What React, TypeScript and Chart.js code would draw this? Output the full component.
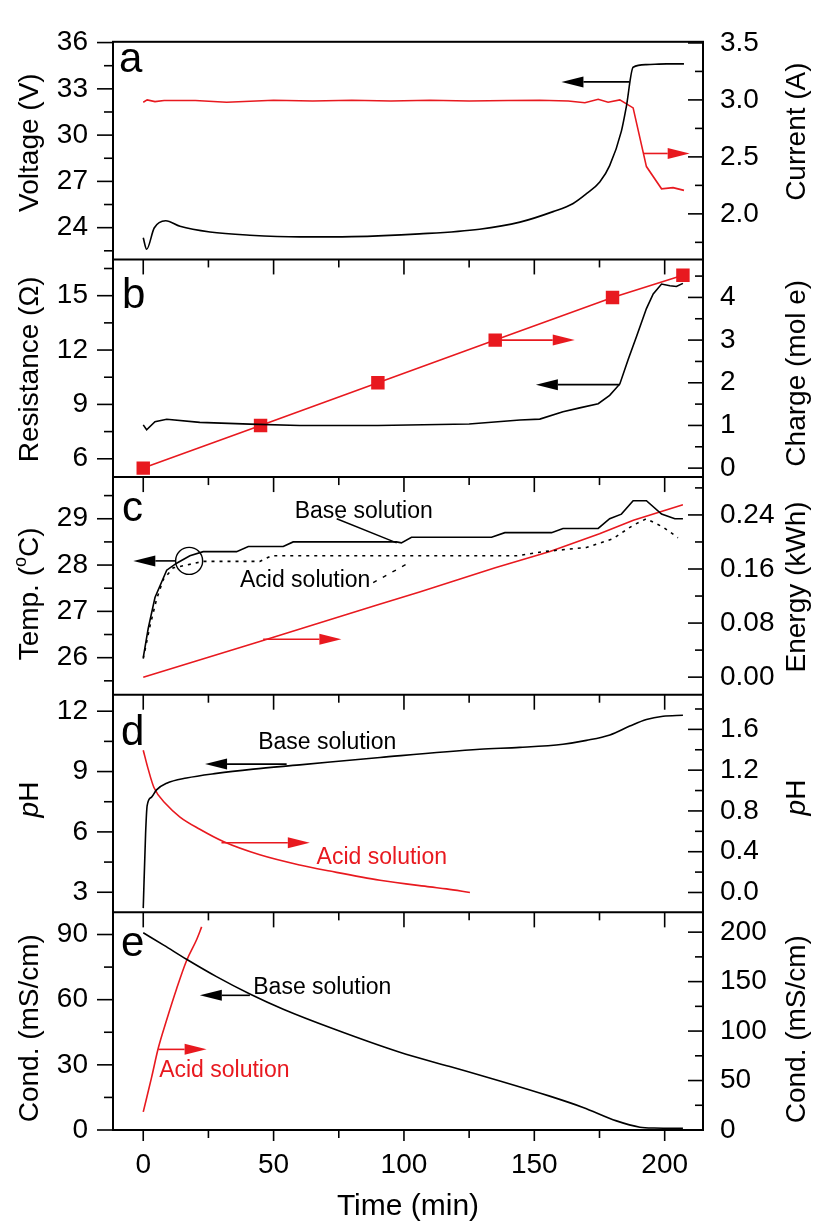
import React, { useEffect, useRef } from 'react';
import { Chart, registerables } from 'chart.js';

Chart.register(...registerables);

const FONT = '"Liberation Sans", Arial, Helvetica, sans-serif';
const RED = '#e8191f';
const BLACK = '#000000';

// ---------- shared time axis ----------
const timeTickValues = [0, 50, 100, 150, 200];

// ---------- panel a ----------
const voltT = [0, 1.3, 4.2, 8.6, 14.1, 25.6, 40.9, 60, 80, 106, 129, 144.5, 157.2, 164.9, 170, 175.1, 178.9, 183.4, 185.3, 187.9, 193, 200.7, 207.4];
const voltV = [23.34, 22.6, 23.98, 24.45, 24.09, 23.72, 23.51, 23.4, 23.42, 23.6, 23.9, 24.36, 25.04, 25.57, 26.2, 26.96, 28.02, 30.26, 31.85, 34.4, 34.57, 34.62, 34.62];
const currT = [0, 1.5, 4.5, 8, 20, 32, 50, 65, 80, 95, 110, 125, 140, 152, 163, 169.4, 174.5, 178.3, 182.8, 187.9, 193, 198.8, 203.2, 207.4];
const currA = [2.98, 3.0, 2.985, 2.995, 2.995, 2.98, 2.997, 2.99, 2.997, 2.99, 2.997, 2.99, 2.995, 2.997, 2.99, 2.975, 3.006, 2.98, 3.0, 2.93, 2.415, 2.22, 2.23, 2.206];

// ---------- panel b ----------
const resT = [0, 1.3, 4.5, 9, 21.7, 40.9, 60, 90, 125, 144.5, 152.1, 161, 167.4, 174.5, 178.9, 182.8, 186, 189.2, 193, 195.6, 198.8, 202, 204.5, 207];
const resR = [7.87, 7.6, 8.05, 8.18, 8.01, 7.91, 7.84, 7.84, 7.92, 8.14, 8.19, 8.59, 8.81, 9.04, 9.5, 10.13, 11.48, 12.75, 14.29, 15.1, 15.64, 15.55, 15.51, 15.68];
const chargeT = [0, 45, 90, 135, 180, 207];
const chargeQ = [0, 1, 2, 3, 4, 4.52];

// ---------- panel c ----------
const tempBaseT = [0, 1.9, 4.5, 9, 12.8, 17.9, 23, 35.8, 40.3, 53.7, 57.5, 97.2, 99, 102.9, 133.6, 138.7, 156.6, 161, 174.5, 178.9, 183.4, 187.9, 193, 198.8, 203.9, 207];
const tempBaseV = [26.0, 26.63, 27.3, 27.89, 28.04, 28.2, 28.29, 28.29, 28.4, 28.4, 28.5, 28.5, 28.48, 28.6, 28.6, 28.7, 28.7, 28.79, 28.79, 29.0, 29.1, 29.39, 29.39, 29.1, 29.0, 29.0];
const tempAcidT = [0, 2.6, 5.1, 7.7, 11.5, 16.6, 23, 44.7, 49.2, 143.2, 153.4, 170, 180.2, 187.9, 193, 199.4, 205.1];
const tempAcidV = [25.98, 26.69, 27.26, 27.69, 27.94, 28.0, 28.08, 28.08, 28.2, 28.2, 28.29, 28.38, 28.57, 28.86, 29.0, 28.82, 28.59];
const energyT = [0, 45, 90, 106, 135, 156, 175, 188, 207];
const energyE = [0.0, 0.053, 0.107, 0.126, 0.162, 0.186, 0.212, 0.232, 0.255];

// ---------- panel d ----------
const phBaseT = [0, 0.9, 1.5, 3.2, 5.1, 9, 16.6, 28.1, 42.2, 60, 90.8, 129.1, 144.4, 161, 170, 179, 186.6, 193, 199.4, 207];
const phBaseV = [2.21, 5.91, 7.31, 7.73, 8.09, 8.42, 8.68, 8.91, 9.12, 9.33, 9.7, 10.11, 10.2, 10.36, 10.55, 10.82, 11.26, 11.59, 11.75, 11.8];
const phAcidT = [0, 1.9, 4.1, 9, 14.1, 21.7, 30.7, 44.7, 60, 71.6, 90.8, 109.9, 116.3, 125.3];
const phAcidV = [1.396, 1.21, 1.03, 0.86, 0.74, 0.62, 0.5, 0.37, 0.27, 0.21, 0.12, 0.055, 0.035, 0.0];

// ---------- panel e ----------
const condBaseT = [0, 8, 16.6, 28.1, 40.9, 53.7, 72.9, 98.4, 117.6, 136.8, 155.9, 168.7, 181.5, 190.5, 196, 207];
const condBaseV = [90.8, 85.0, 78.6, 70.6, 62.6, 55.6, 46.6, 35.8, 29.2, 22.6, 15.6, 10.4, 4.2, 1.3, 0.9, 0.8];
const condAcidT = [0, 3.2, 5.8, 9, 12.8, 16.6, 20.5, 22.4];
const condAcidV = [18.3, 53.2, 83.1, 111.4, 142.8, 171.1, 192.6, 205.3];

// ---------- axes ----------
type AxisDef = { id: string; side: 'left' | 'right'; min: number; max: number; major: number; minor: number; dec: number; order: number };
const axisDefs: AxisDef[] = [
  { id: 'ya', side: 'left', min: 21.94, max: 36.05, major: 3, minor: 1.5, dec: 0, order: 0 },
  { id: 'yb', side: 'left', min: 4.99, max: 17.0, major: 3, minor: 1.5, dec: 0, order: 1 },
  { id: 'yc', side: 'left', min: 25.2, max: 29.9, major: 1, minor: 0.5, dec: 0, order: 2 },
  { id: 'yd', side: 'left', min: 2.0, max: 12.82, major: 3, minor: 1.5, dec: 0, order: 3 },
  { id: 'ye', side: 'left', min: 0, max: 100.2, major: 30, minor: 15, dec: 0, order: 4 },
  { id: 'ra', side: 'right', min: 1.6, max: 3.51, major: 0.5, minor: 0.25, dec: 1, order: 0 },
  { id: 'rb', side: 'right', min: -0.21, max: 4.89, major: 1, minor: 0.5, dec: 0, order: 1 },
  { id: 'rc', side: 'right', min: -0.026, max: 0.296, major: 0.08, minor: 0.04, dec: 2, order: 2 },
  { id: 'rd', side: 'right', min: -0.195, max: 1.94, major: 0.4, minor: 0.2, dec: 1, order: 3 },
  { id: 're', side: 'right', min: 0, max: 220, major: 50, minor: 25, dec: 0, order: 4 },
];
const panelAxes = ['ya', 'yb', 'yc', 'yd', 'ye'];

type Part = { t: string; font?: string; dy?: number };
const titles: { axis: string; side: 'left' | 'right'; parts: Part[]; dy: number }[] = [
  { axis: 'ya', side: 'left', parts: [{ t: 'Voltage (V)' }], dy: -8 },
  { axis: 'yb', side: 'left', parts: [{ t: 'Resistance (Ω)' }], dy: 1 },
  { axis: 'yc', side: 'left', parts: [{ t: 'Temp. (' }, { t: 'o', font: '18px', dy: -9 }, { t: 'C)' }], dy: 8 },
  { axis: 'yd', side: 'left', parts: [{ t: 'p', font: 'italic 28px' }, { t: 'H' }], dy: -4 },
  { axis: 'ye', side: 'left', parts: [{ t: 'Cond. (mS/cm)' }], dy: 7 },
  { axis: 'ra', side: 'right', parts: [{ t: 'Current (A)' }], dy: -19 },
  { axis: 'rb', side: 'right', parts: [{ t: 'Charge (mol e)' }], dy: 5 },
  { axis: 'rc', side: 'right', parts: [{ t: 'Energy (kWh)' }], dy: 1 },
  { axis: 'rd', side: 'right', parts: [{ t: 'p', font: 'italic 28px' }, { t: 'H' }], dy: -6 },
  { axis: 're', side: 'right', parts: [{ t: 'Cond. (mS/cm)' }], dy: 8 },
];

const panelLetters = [
  { axis: 'ya', text: 'a', dx: 6, dy: 30 },
  { axis: 'yb', text: 'b', dx: 9, dy: 48.5 },
  { axis: 'yc', text: 'c', dx: 9, dy: 44 },
  { axis: 'yd', text: 'd', dx: 8, dy: 50 },
  { axis: 'ye', text: 'e', dx: 8, dy: 44 },
];

const arrows = [
  { axis: 'ya', y: 33.45, from: 186.6, to: 160.4, color: BLACK },
  { axis: 'ra', y: 2.53, from: 191.7, to: 209.6, color: RED },
  { axis: 'rb', y: 3.0, from: 135, to: 165.5, color: RED },
  { axis: 'yb', y: 10.09, from: 182.8, to: 150.6, color: BLACK },
  { axis: 'yc', y: 28.09, from: 12.2, to: -3.8, color: BLACK },
  { axis: 'rc', y: 0.056, from: 46, to: 76, color: RED },
  { axis: 'yd', y: 9.37, from: 55, to: 23.7, color: BLACK },
  { axis: 'rd', y: 0.488, from: 30, to: 63.9, color: RED },
  { axis: 'ye', y: 62.0, from: 40.9, to: 21.7, color: BLACK },
  { axis: 're', y: 81.5, from: 5.8, to: 24.3, color: RED },
];

const notes = [
  { axis: 'yc', x: 58.1, y: 29.02, text: 'Base solution', color: BLACK },
  { axis: 'yc', x: 37.1, y: 27.53, text: 'Acid solution', color: BLACK },
  { axis: 'yd', x: 44.1, y: 10.11, text: 'Base solution', color: BLACK },
  { axis: 'rd', x: 66.5, y: 0.279, text: 'Acid solution', color: RED },
  { axis: 'ye', x: 42.2, y: 62.8, text: 'Base solution', color: BLACK },
  { axis: 're', x: 6.1, y: 53.2, text: 'Acid solution', color: RED },
];

const leaders = [
  { axis: 'yc', x1: 74.2, y1: 29.0, x2: 97.2, y2: 28.48, dash: [] as number[] },
  { axis: 'yc', x1: 88.2, y1: 27.62, x2: 102.9, y2: 28.08, dash: [4, 7] },
];
const circles = [{ axis: 'yc', x: 17.6, y: 28.09, r: 13.5 }];

const pts = (xs: number[], ys: number[]) => xs.map((x, i) => ({ x, y: ys[i] }));

const decorPlugin = {
  id: 'decor',
  afterDraw(chart: any) {
    const ctx: CanvasRenderingContext2D = chart.ctx;
    const { left, right, top, bottom } = chart.chartArea;
    const xs = chart.scales.x;
    const line = (x1: number, y1: number, x2: number, y2: number) => {
      ctx.beginPath();
      ctx.moveTo(x1, y1);
      ctx.lineTo(x2, y2);
      ctx.stroke();
    };
    ctx.save();
    ctx.strokeStyle = BLACK;
    ctx.fillStyle = BLACK;
    ctx.lineWidth = 2;
    ctx.strokeRect(left, top, right - left, bottom - top);
    panelAxes.forEach((id) => {
      const s = chart.scales[id];
      line(left, s.bottom, right, s.bottom);
    });

    // x ticks at the bottom of every panel, pointing down
    ctx.lineWidth = 1.6;
    panelAxes.forEach((id, i) => {
      const s = chart.scales[id];
      const last = i === panelAxes.length - 1;
      for (let v = 0; v <= xs.max; v += 25) {
        const major = v % 50 === 0;
        const len = major ? (last ? 11 : 15) : 8;
        const x = xs.getPixelForValue(v);
        line(x, s.bottom, x, s.bottom + len);
      }
    });

    // y ticks
    axisDefs.forEach((a) => {
      const s = chart.scales[a.id];
      const start = Math.ceil(a.min / a.minor - 1e-9) * a.minor;
      for (let k = 0; ; k++) {
        const v = start + k * a.minor;
        if (v > a.max + 1e-9) break;
        const r = v / a.major;
        const major = Math.abs(r - Math.round(r)) < 1e-6;
        const y = s.getPixelForValue(v);
        if (a.side === 'left') {
          line(left - (major ? 16 : 9), y, left, y);
        } else {
          line(right - (major ? 15 : 8), y, right, y);
        }
      }
    });

    // rotated axis titles
    const drawParts = (cx: number, cy: number, parts: Part[]) => {
      ctx.save();
      ctx.translate(cx, cy);
      ctx.rotate(-Math.PI / 2);
      ctx.textBaseline = 'middle';
      ctx.textAlign = 'left';
      let total = 0;
      parts.forEach((p) => {
        ctx.font = `${p.font || '28px'} ${FONT}`;
        total += ctx.measureText(p.t).width;
      });
      let x = -total / 2;
      parts.forEach((p) => {
        ctx.font = `${p.font || '28px'} ${FONT}`;
        ctx.fillText(p.t, x, p.dy || 0);
        x += ctx.measureText(p.t).width;
      });
      ctx.restore();
    };
    ctx.fillStyle = BLACK;
    titles.forEach((t) => {
      const s = chart.scales[t.axis];
      const cy = (s.top + s.bottom) / 2 + t.dy;
      const cx = t.side === 'left' ? 30 : 797;
      drawParts(cx, cy, t.parts);
    });

    // x title
    ctx.font = `30px ${FONT}`;
    ctx.textAlign = 'center';
    ctx.textBaseline = 'alphabetic';
    ctx.fillText('Time (min)', 408, 1215);

    // panel letters
    ctx.font = `42px ${FONT}`;
    ctx.textAlign = 'left';
    panelLetters.forEach((p) => {
      const s = chart.scales[p.axis];
      ctx.fillText(p.text, left + p.dx, s.top + p.dy);
    });

    // arrows
    ctx.lineWidth = 1.6;
    arrows.forEach((a) => {
      const s = chart.scales[a.axis];
      const y = s.getPixelForValue(a.y);
      const x1 = xs.getPixelForValue(a.from);
      const x2 = xs.getPixelForValue(a.to);
      const dir = x2 > x1 ? 1 : -1;
      const head = 22;
      ctx.strokeStyle = a.color;
      ctx.fillStyle = a.color;
      line(x1, y, x2 - dir * head, y);
      ctx.beginPath();
      ctx.moveTo(x2, y);
      ctx.lineTo(x2 - dir * head, y - 5.5);
      ctx.lineTo(x2 - dir * head, y + 5.5);
      ctx.closePath();
      ctx.fill();
    });

    // leader lines and circle
    ctx.strokeStyle = BLACK;
    ctx.lineWidth = 1.4;
    leaders.forEach((l) => {
      const s = chart.scales[l.axis];
      ctx.setLineDash(l.dash);
      line(xs.getPixelForValue(l.x1), s.getPixelForValue(l.y1), xs.getPixelForValue(l.x2), s.getPixelForValue(l.y2));
    });
    ctx.setLineDash([]);
    circles.forEach((c) => {
      const s = chart.scales[c.axis];
      ctx.beginPath();
      ctx.arc(xs.getPixelForValue(c.x), s.getPixelForValue(c.y), c.r, 0, Math.PI * 2);
      ctx.stroke();
    });

    // notes
    ctx.font = `23px ${FONT}`;
    ctx.textAlign = 'left';
    ctx.textBaseline = 'alphabetic';
    notes.forEach((n) => {
      const s = chart.scales[n.axis];
      ctx.fillStyle = n.color;
      ctx.fillText(n.text, xs.getPixelForValue(n.x), s.getPixelForValue(n.y));
    });
    ctx.restore();
  },
};

export default function App() {
  const ref = useRef<HTMLCanvasElement>(null);
  useEffect(() => {
    const ds = (data: any[], axis: string, color: string, extra: any = {}) => ({
      data,
      xAxisID: 'x',
      yAxisID: axis,
      borderColor: color,
      backgroundColor: color,
      borderWidth: 1.6,
      pointRadius: 0,
      fill: false,
      tension: 0,
      ...extra,
    });
    const scales: any = {
      x: {
        type: 'linear',
        position: 'bottom',
        min: -11.6,
        max: 214.7,
        afterBuildTicks: (s: any) => {
          s.ticks = timeTickValues.map((v) => ({ value: v }));
        },
        ticks: { font: { size: 28, family: FONT }, color: BLACK, padding: 18, maxRotation: 0, autoSkip: false },
        grid: { display: false, drawTicks: false },
        border: { display: false },
        afterFit: (s: any) => {
          s.height = 92;
        },
      },
    };
    axisDefs.forEach((a) => {
      scales[a.id] = {
        type: 'linear',
        position: a.side,
        stack: a.side === 'left' ? 'L' : 'R',
        stackWeight: 1,
        weight: a.side === 'left' ? 4 - a.order : a.order,
        min: a.min,
        max: a.max,
        ticks: {
          stepSize: a.major,
          includeBounds: false,
          autoSkip: false,
          padding: a.side === 'left' ? 25 : 17,
          font: { size: 28, family: FONT },
          color: BLACK,
          callback: (v: any) => Number(v).toFixed(a.dec),
        },
        grid: { display: false, drawTicks: false },
        border: { display: false },
        afterFit: (s: any) => {
          s.width = a.side === 'left' ? 113 : 114;
        },
      };
    });
    const chart = new Chart(ref.current as HTMLCanvasElement, {
      type: 'line',
      data: {
        datasets: [
          ds(pts(voltT, voltV), 'ya', BLACK, { cubicInterpolationMode: 'monotone' }),
          ds(pts(currT, currA), 'ra', RED),
          ds(pts(resT, resR), 'yb', BLACK),
          ds(pts(chargeT, chargeQ), 'rb', RED, { pointRadius: 9.5, pointStyle: 'rect', pointBorderWidth: 0, pointBackgroundColor: RED }),
          ds(pts(tempBaseT, tempBaseV), 'yc', BLACK),
          ds(pts(tempAcidT, tempAcidV), 'yc', BLACK, { borderDash: [3, 5] }),
          ds(pts(energyT, energyE), 'rc', RED),
          ds(pts(phBaseT, phBaseV), 'yd', BLACK, { cubicInterpolationMode: 'monotone' }),
          ds(pts(phAcidT, phAcidV), 'rd', RED, { cubicInterpolationMode: 'monotone' }),
          ds(pts(condBaseT, condBaseV), 'ye', BLACK, { cubicInterpolationMode: 'monotone' }),
          ds(pts(condAcidT, condAcidV), 're', RED, { cubicInterpolationMode: 'monotone' }),
        ],
      },
      options: {
        responsive: false,
        animation: false,
        devicePixelRatio: 1,
        layout: { padding: { top: 28, left: 0, right: 0, bottom: 0 } },
        plugins: { legend: { display: false }, tooltip: { enabled: false } },
        events: [],
        scales,
      } as any,
      plugins: [decorPlugin as any],
    });
    return () => chart.destroy();
  }, []);
  return (
    <div style={{ position: 'absolute', left: 0, top: 0, width: 817, height: 1222, background: '#fff' }}>
      <canvas ref={ref} width={817} height={1222} style={{ display: 'block', width: 817, height: 1222 }} />
    </div>
  );
}
